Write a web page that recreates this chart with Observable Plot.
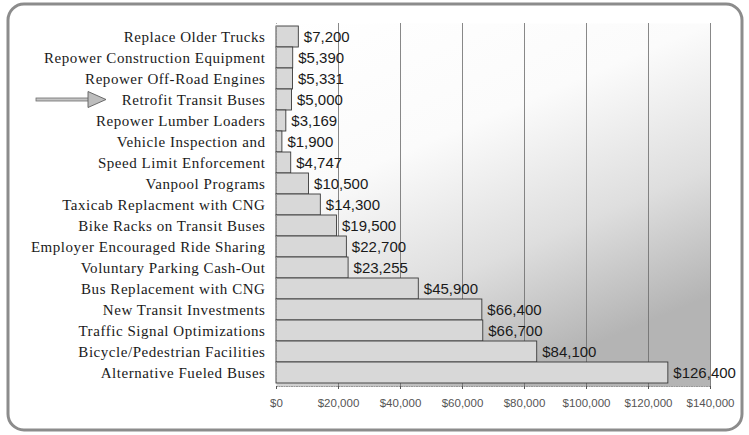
<!DOCTYPE html>
<html>
<head>
<meta charset="utf-8">
<script src="https://cdn.jsdelivr.net/npm/d3@7"></script>
<script src="https://cdn.jsdelivr.net/npm/@observablehq/plot@0.6"></script>
<style>
  html, body { margin: 0; padding: 0; background: #fff; }
  #chart svg { display: block; }
  .ylab text { letter-spacing: 0.55px; }
</style>
</head>
<body>
<div id="chart"></div>
<script>
const categories = [
  "Replace Older Trucks",
  "Repower Construction Equipment",
  "Repower Off-Road Engines",
  "Retrofit Transit Buses",
  "Repower Lumber Loaders",
  "Vehicle Inspection and",
  "Speed Limit Enforcement",
  "Vanpool Programs",
  "Taxicab Replacment with CNG",
  "Bike Racks on Transit Buses",
  "Employer Encouraged Ride Sharing",
  "Voluntary Parking Cash-Out",
  "Bus Replacement with CNG",
  "New Transit Investments",
  "Traffic Signal Optimizations",
  "Bicycle/Pedestrian Facilities",
  "Alternative Fueled Buses"
];
const values = [7200, 5390, 5331, 5000, 3169, 1900, 4747, 10500, 14300, 19500, 22700, 23255, 45900, 66400, 66700, 84100, 126400];
const xTicks = [0, 20000, 40000, 60000, 80000, 100000, 120000, 140000];
const highlighted = "Retrofit Transit Buses";

const money = d => "$" + d3.format(",")(d);
const data = categories.map((c, i) => ({category: c, value: values[i]}));

const W = 749, H = 435;
const chart = Plot.plot({
  width: W,
  height: H,
  marginLeft: 276,
  marginRight: 39,
  marginTop: 23,
  marginBottom: 49,
  style: {background: "transparent", fontFamily: "Liberation Sans, Arial, sans-serif"},
  x: {domain: [0, 140000]},
  y: {domain: categories, padding: 0},
  marks: [
    Plot.frame({fill: "url(#bgGrad)", stroke: null}),
    Plot.ruleX(xTicks.slice(1), {stroke: "#6a6a6a", strokeWidth: 0.8}),
    Plot.frame({anchor: "bottom", stroke: "#999", strokeDasharray: "1,1.5"}),
    Plot.barX(data, {x: "value", y: "category", fill: "#d8d8d8", stroke: "#3a3a3a", strokeWidth: 0.9}),
    Plot.text(data, {x: "value", y: "category", text: d => money(d.value), dx: 5, textAnchor: "start",
      fontSize: 15, fontFamily: "Liberation Sans, Arial, sans-serif", fill: "#1a1a1a"}),
    Plot.axisY({tickSize: 0, tickPadding: 11, label: null, fontSize: 15, className: "ylab",
      fontFamily: "Liberation Serif, Times New Roman, serif", color: "#1a1a1a"}),
    Plot.axisX({ticks: xTicks, tickFormat: money, tickSize: 3, tickPadding: 9, label: null,
      fontSize: 11.5, color: "#555"}),
    Plot.ruleX([0], {stroke: "#999", strokeWidth: 0.8, strokeDasharray: "1,2"})
  ]
});

document.getElementById("chart").appendChild(chart);

const svg = d3.select(chart);
const defs = svg.insert("defs", ":first-child");
const g = defs.append("linearGradient").attr("id", "bgGrad")
  .attr("x1", "0").attr("y1", "0").attr("x2", "0.5").attr("y2", "1");
g.append("stop").attr("offset", "0").attr("stop-color", "#ffffff");
g.append("stop").attr("offset", "0.4").attr("stop-color", "#fbfbfb");
g.append("stop").attr("offset", "0.72").attr("stop-color", "#dedede");
g.append("stop").attr("offset", "1").attr("stop-color", "#b4b4b4");

// rounded outer border
svg.append("rect")
  .attr("x", 8).attr("y", 4).attr("width", W - 15).attr("height", H - 9)
  .attr("rx", 16).attr("ry", 16)
  .attr("fill", "none").attr("stroke", "#8c8c8c").attr("stroke-width", 3);

// arrow pointing at highlighted category
const ys = chart.scale("y");
const yc = ys.apply(highlighted) + ys.bandwidth / 2;
const arrow = svg.append("g");
arrow.append("rect").attr("x", 36).attr("y", yc - 1.5).attr("width", 54).attr("height", 3)
  .attr("fill", "#c4c4c4").attr("stroke", "#6e6e6e").attr("stroke-width", 0.8);
arrow.append("path")
  .attr("d", `M88,${yc - 8} L106,${yc} L88,${yc + 8} Z`)
  .attr("fill", "#bdbdbd").attr("stroke", "#5e5e5e").attr("stroke-width", 0.9);
</script>
</body>
</html>
